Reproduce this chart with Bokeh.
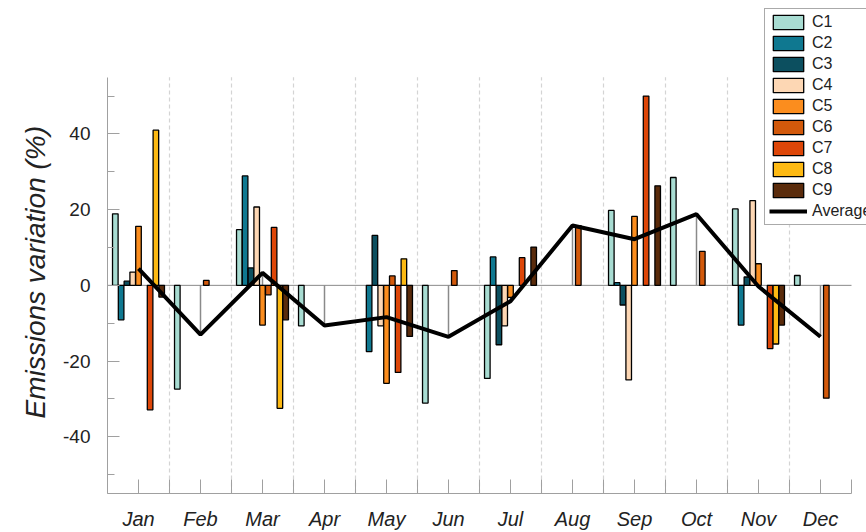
import math
from bokeh.plotting import figure
from bokeh.models import ColumnDataSource, FixedTicker, Legend, LegendItem, Title
from bokeh.transform import dodge
from bokeh.embed import file_html
from bokeh.resources import INLINE

nan = float("nan")

months = ["Jan", "Feb", "Mar", "Apr", "May", "Jun", "Jul", "Aug", "Sep", "Oct", "Nov", "Dec"]
month_pos = [1, 2, 3, 4, 5, 6, 7, 8, 9, 10, 11, 12]

c1 = [18.9, -27.4, 14.7, -10.7, nan, -31.1, -24.6, nan, 19.8, 28.5, 20.2, 2.6]
c2 = [-9.1, nan, 28.9, nan, -17.5, nan, 7.5, nan, 0.7, nan, -10.5, nan]
c3 = [1.1, nan, 4.6, nan, 13.2, nan, -15.7, nan, -5.2, nan, 2.2, nan]
c4 = [3.5, nan, 20.7, nan, -10.7, nan, -10.7, nan, -25.0, nan, 22.4, nan]
c5 = [15.6, nan, -10.5, nan, -25.9, nan, -3.2, nan, 18.2, nan, 5.7, nan]
c6 = [nan, 1.3, -2.5, nan, 2.5, 3.9, nan, 15.8, nan, 9.0, nan, -29.8]
c7 = [-32.9, nan, 15.3, nan, -23.0, nan, 7.3, nan, 50.0, nan, -16.7, nan]
c8 = [41.0, nan, -32.5, nan, 7.0, nan, nan, nan, nan, nan, -15.5, nan]
c9 = [-3.1, nan, -9.1, nan, -13.5, nan, 10.1, nan, 26.3, nan, -10.5, nan]
average = [4.4, -13.0, 3.3, -10.6, -8.4, -13.6, -4.2, 15.8, 12.2, 18.8, -0.3, -13.6]

y_ticks = [-40, -20, 0, 20, 40]
y_minor = [-50, -30, -10, 10, 30, 50]

series_names = ["C1", "C2", "C3", "C4", "C5", "C6", "C7", "C8", "C9"]
series_values = [c1, c2, c3, c4, c5, c6, c7, c8, c9]
colors = ["#a8dcd2", "#0f7890", "#0c4f5f", "#fdd7b4", "#fb8d1e", "#d2590b",
          "#dd4608", "#fdb913", "#5a2b0b"]

data = {"x": month_pos, "avg": average}
for n, v in zip(series_names, series_values):
    data[n] = v
src = ColumnDataSource(data)

# layout: axes span (0.5..12.5) x (-55..55); the frame is extended to the
# top and right canvas edges so that the legend box is not clipped
X0, X1, Y0, Y1 = 0.5, 12.5, -55, 55
W, H = 866, 532
left_px, right_px, top_px, bottom_px = 107, 15, 77, 37
fw = W - left_px - right_px
fh = H - top_px - bottom_px
x_ext = X1 + right_px * (X1 - X0) / fw
y_ext = Y1 + top_px * (Y1 - Y0) / fh

p = figure(width=W, height=H, x_range=(X0, x_ext), y_range=(Y0, y_ext),
           output_backend="svg", toolbar_location=None,
           min_border_left=left_px, min_border_right=0, min_border_top=0,
           min_border_bottom=bottom_px)
p.outline_line_color = None
p.background_fill_color = "white"
p.border_fill_color = "white"
p.xgrid.grid_line_color = None
p.ygrid.grid_line_color = None

# dashed month separators
sep = [m + 0.5 for m in month_pos[:-1]]
p.segment(x0=sep, y0=[Y0] * len(sep), x1=sep, y1=[Y1] * len(sep),
          line_color="#d4d4d4", line_dash="4 3", line_width=1.2)
# zero line
p.segment(x0=[X0], y0=[0], x1=[X1], y1=[0], line_color="#8a8a8a", line_width=1)

# stems from zero to average
p.segment(x0="x", y0=0, x1="x", y1="avg", source=src, line_color="#8a8a8a", line_width=1.5)

step = 0.0935
renderers = []
for i, (n, col) in enumerate(zip(series_names, colors)):
    r = p.vbar(x=dodge("x", (i - 4) * step, range=p.x_range), top=n, bottom=0,
               width=0.09, source=src, fill_color=col, line_color="black",
               line_width=1.3)
    renderers.append(r)

rl = p.line("x", "avg", source=src, line_color="black", line_width=4)

# axes
ax = p.yaxis[0]
ax.bounds = (Y0, Y1)
ax.ticker = FixedTicker(ticks=y_ticks, minor_ticks=y_minor)
ax.major_label_overrides = {t: str(t) for t in y_ticks}
ax.major_tick_in = 12
ax.major_tick_out = 0
ax.minor_tick_in = 7
ax.minor_tick_out = 0
ax.axis_line_color = "#a0a0a0"
ax.major_tick_line_color = "#a0a0a0"
ax.minor_tick_line_color = "#a0a0a0"
ax.major_label_text_font = "Liberation Sans"
ax.major_label_text_font_size = "19px"
ax.major_label_text_color = "#222222"
ax.major_label_standoff = 17

ylab = Title(text="Emissions variation (%)", align="left", offset=75,
             text_font="Liberation Sans", text_font_size="28px",
             text_font_style="italic", text_color="#222222", standoff=20)
p.add_layout(ylab, "left")

bx = p.xaxis[0]
bx.bounds = (X0, X1)
bx.ticker = FixedTicker(ticks=month_pos, minor_ticks=[m + 0.5 for m in [0] + month_pos])
bx.major_label_overrides = {m: name for m, name in zip(month_pos, months)}
bx.major_tick_in = 14
bx.major_tick_out = 0
bx.minor_tick_in = 14
bx.minor_tick_out = 0
bx.axis_line_color = "#a0a0a0"
bx.major_tick_line_color = "#a0a0a0"
bx.minor_tick_line_color = "#a0a0a0"
bx.major_label_text_font = "Liberation Sans"
bx.major_label_text_font_size = "20px"
bx.major_label_text_font_style = "italic"
bx.major_label_text_color = "#222222"
bx.major_label_standoff = 14

items = [LegendItem(label=n, renderers=[r]) for n, r in zip(series_names, renderers)]
items.append(LegendItem(label="Average", renderers=[rl]))
legend = Legend(items=items, location=(657, 268), glyph_width=38, glyph_height=18,
                label_height=18, spacing=3, padding=4, margin=0, label_standoff=5,
                label_text_font="Liberation Sans", label_text_font_size="16px",
                label_text_color="#222222", border_line_color="#555555",
                border_line_width=1, background_fill_alpha=1.0)
p.add_layout(legend)

open("out.html", "w").write(file_html(p, INLINE))
